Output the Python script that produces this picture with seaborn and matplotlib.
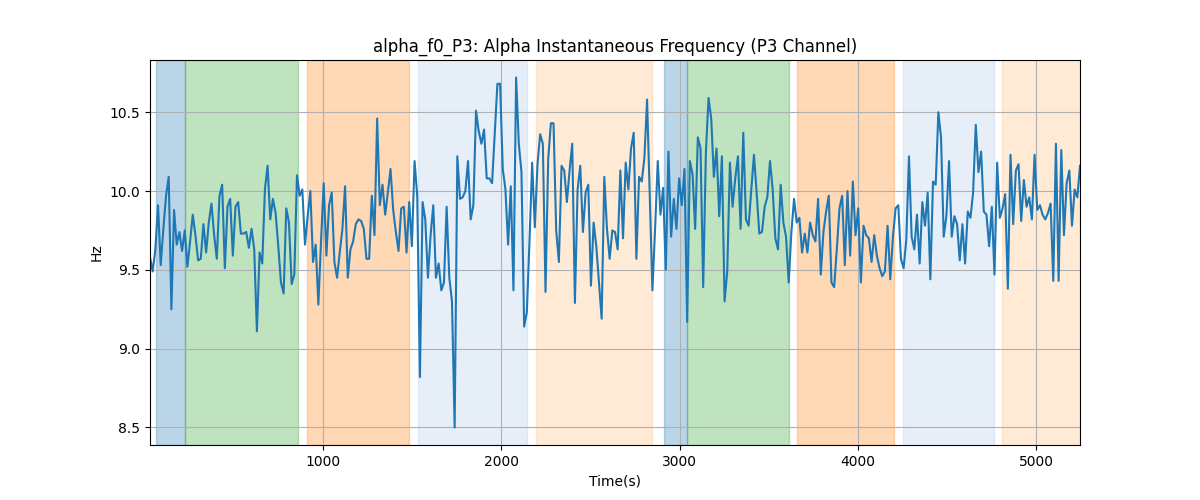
import numpy as np
import pandas as pd
import seaborn as sns
import matplotlib
matplotlib.use("Agg")
import matplotlib.pyplot as plt

# values, in time order
alpha_hz = [
    9.58, 9.49, 9.63, 9.91, 9.53, 9.76, 9.97, 10.09, 9.25, 9.88,
    9.66, 9.74, 9.62, 9.75, 9.52, 9.68, 9.85, 9.72, 9.56, 9.57,
    9.79, 9.61, 9.80, 9.92, 9.72, 9.57, 9.97, 10.04, 9.51, 9.90,
    9.95, 9.59, 9.90, 9.93, 9.73, 9.73, 9.74, 9.64, 9.76, 9.63,
    9.11, 9.61, 9.54, 10.01, 10.16, 9.82, 9.95, 9.86, 9.65, 9.42,
    9.35, 9.89, 9.80, 9.41, 9.47, 10.10, 9.97, 10.01,
    9.66, 9.84, 10.00, 9.55, 9.66, 9.28, 9.68, 10.05, 9.59, 9.91,
    9.99, 9.55, 9.45, 9.61, 9.76, 10.03, 9.45, 9.63, 9.68, 9.79,
    9.82, 9.81, 9.76, 9.57, 9.57, 9.97, 9.72, 10.46, 9.91, 10.04,
    9.85, 9.99, 10.14, 9.88, 9.74, 9.62, 9.89, 9.90, 9.61, 9.93,
    9.65, 10.19, 9.97, 8.82, 9.93, 9.82, 9.45, 9.72, 9.91, 9.45,
    9.54, 9.37, 9.42, 9.90, 9.45, 9.30, 8.50, 10.22,
    9.95, 9.96, 10.00, 10.19, 9.82, 9.91, 10.51, 10.38, 10.30, 10.39,
    10.08, 10.08, 10.05, 10.36, 10.68, 10.68, 10.14, 10.01, 9.66, 10.03,
    9.37, 10.72, 10.30, 10.12, 9.14, 9.23, 9.68, 10.18, 9.77, 10.17,
    10.36, 10.30, 9.36, 10.20, 10.43, 10.43, 9.75, 9.55, 10.16, 10.13,
    9.93, 10.13, 10.30, 9.29, 10.01, 10.16, 9.74, 9.99, 10.04, 9.40,
    9.80, 9.65, 9.42, 9.19, 10.09, 9.76, 9.57, 9.75,
    9.74, 9.63, 10.13, 9.70, 10.18, 10.01, 10.27, 10.37, 9.57, 10.09,
    10.06, 10.21, 10.58, 9.97, 9.37, 9.76, 10.19, 9.85, 10.02, 9.50,
    10.25, 9.71, 9.95, 9.76, 10.08, 9.91, 10.14, 9.17, 10.19, 10.11,
    9.76, 10.34, 10.27, 9.39, 10.24, 10.59, 10.46, 10.09, 10.27, 9.84,
    10.22, 9.30, 9.49, 10.18, 9.90, 10.08, 10.22, 9.76, 10.37, 9.82,
    9.78, 10.01, 10.23, 9.99, 9.73, 9.74, 9.90, 9.96,
    10.19, 10.01, 9.70, 9.63, 10.04, 9.80, 9.71, 9.42, 9.74, 9.95,
    9.80, 9.83, 9.61, 9.73, 9.61, 9.80, 9.72, 9.68, 9.95, 9.47,
    9.74, 9.87, 9.97, 9.42, 9.39, 9.63, 9.89, 9.97, 9.53, 10.00,
    9.59, 10.06, 9.72, 9.89, 9.42, 9.78, 9.72, 9.70, 9.55, 9.72,
    9.59, 9.51, 9.46, 9.49, 9.78, 9.44, 9.71, 9.89, 9.91, 9.57,
    9.51, 9.69, 10.22, 9.71, 9.63, 9.85, 9.54, 9.93,
    9.78, 9.99, 9.44, 10.06, 10.04, 10.50, 10.34, 9.71, 9.84, 10.19,
    9.71, 9.84, 9.79, 9.56, 9.79, 9.54, 9.87, 9.83, 9.99, 10.42,
    10.12, 10.25, 9.87, 9.85, 9.65, 9.90, 9.47, 10.18, 9.83, 9.89,
    9.98, 9.38, 10.23, 9.79, 10.13, 10.17, 9.81, 10.07, 9.90, 9.96,
    9.82, 10.23, 9.88, 9.91, 9.85, 9.82, 9.86, 9.92, 9.43, 10.30,
    9.43, 10.26, 9.72, 10.05, 10.13, 9.78, 10.01, 9.96, 10.16,
]
t_first = 30
t_last = 5245

# shaded segments (start, end, colour)
seg_start = [65, 225, 910, 1535, 2195, 2912, 3044, 3658, 4253, 4808]
seg_end = [225, 862, 1485, 2142, 2847, 3044, 3612, 4200, 4765, 5245]
seg_color = ["#1f77b4", "#2ca02c", "#ff7f0e", "#aec7e8", "#ffbb78",
             "#1f77b4", "#2ca02c", "#ff7f0e", "#aec7e8", "#ffbb78"]

df = pd.DataFrame({
    "time": np.linspace(t_first, t_last, len(alpha_hz)),
    "hz": alpha_hz,
})

fig, ax = plt.subplots(figsize=(12, 5), dpi=100)

for s, e, c in zip(seg_start, seg_end, seg_color):
    ax.axvspan(s, e, color=c, alpha=0.3)

sns.lineplot(data=df, x="time", y="hz", ax=ax, color="#1f77b4", linewidth=1.5)

ax.set_xlim(t_first, t_last)
ax.grid(True)
ax.set_title("alpha_f0_P3: Alpha Instantaneous Frequency (P3 Channel)")
ax.set_xlabel("Time(s)")
ax.set_ylabel("Hz")

plt.savefig("out.png")
